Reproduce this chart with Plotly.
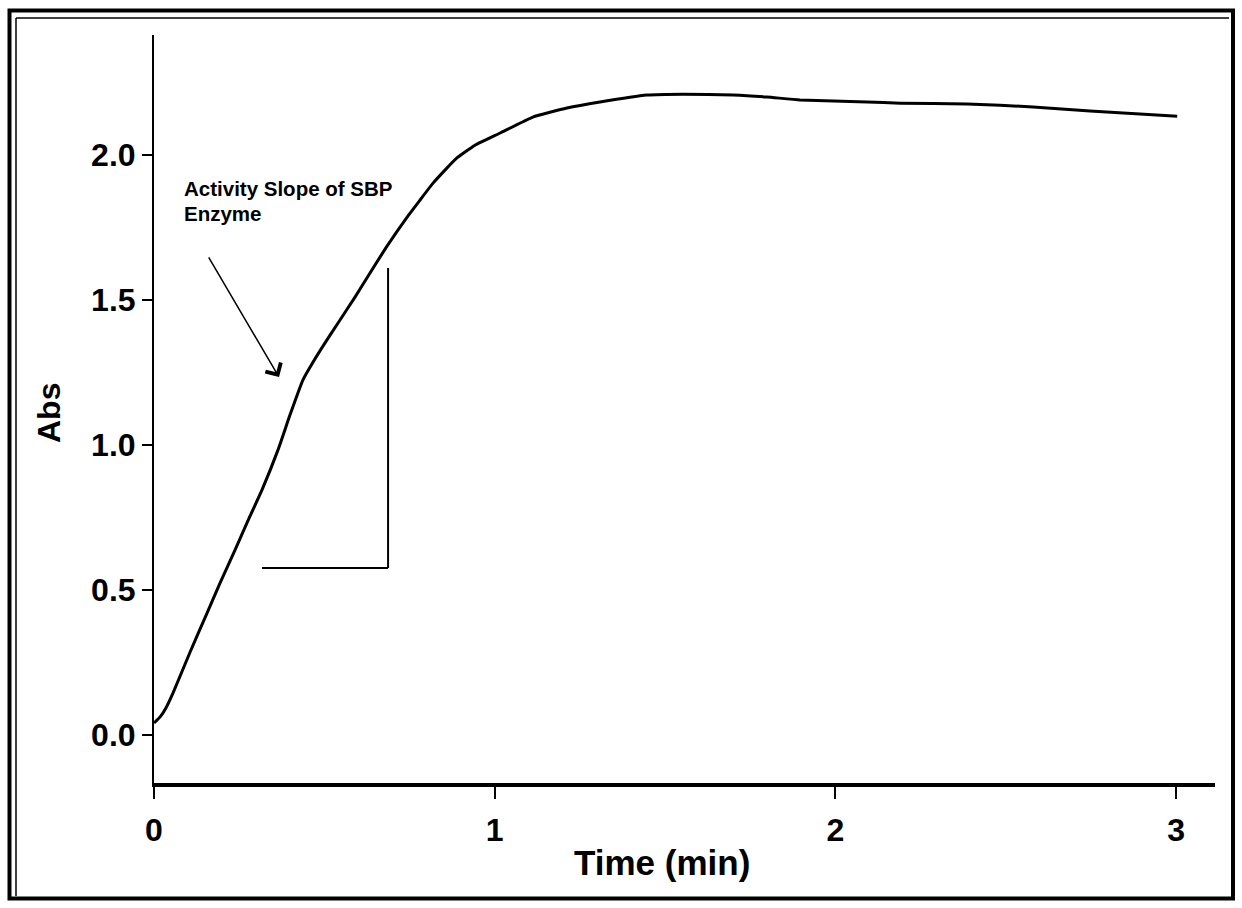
import plotly.graph_objects as go

# ---- data ----
time_min = [0, 0.018, 0.035, 0.056, 0.106, 0.156, 0.194, 0.238, 0.282, 0.317, 0.364,
            0.399, 0.437, 0.467, 0.502, 0.546, 0.59, 0.634, 0.684, 0.743, 0.781,
            0.819, 0.854, 0.889, 0.942, 1.016, 1.112, 1.212, 1.309, 1.447, 1.553,
            1.7, 1.799, 1.896, 2.093, 2.19, 2.386, 2.58, 2.747, 3.003]
absorbance = [0.041, 0.062, 0.093, 0.145, 0.286, 0.421, 0.524, 0.638, 0.755, 0.845, 0.983,
              1.103, 1.224, 1.286, 1.352, 1.431, 1.51, 1.593, 1.686, 1.786, 1.845,
              1.903, 1.948, 1.99, 2.034, 2.076, 2.131, 2.162, 2.183, 2.207, 2.21,
              2.207, 2.2, 2.19, 2.183, 2.179, 2.176, 2.166, 2.152, 2.134]
x_ticks = [0, 1, 2, 3]
x_tick_labels = ["0", "1", "2", "3"]
y_ticks = [0.0, 0.5, 1.0, 1.5, 2.0]
y_tick_labels = ["0.0", "0.5", "1.0", "1.5", "2.0"]
note_line1 = "Activity Slope of SBP"
note_line2 = "Enzyme"

# slope guide (data coords)
slope_x0, slope_x1 = 0.317, 0.687
slope_y0, slope_y1 = 0.576, 1.61
# arrow (data coords)
arrow_tail = (0.158, 1.652)
arrow_tip = (0.367, 1.234)

W, H = 1242, 908
L, R, T, B = 154, 1215, 35, 783


def px(x):
    return (x - L) / (R - L)


def py(y):
    return (B - y) / (B - T)


FONT = "Liberation Sans, Arial, sans-serif"

fig = go.Figure()
fig.add_trace(go.Scatter(x=time_min, y=absorbance, mode="lines",
                         line=dict(color="black", width=3, shape="spline", smoothing=0.4),
                         hoverinfo="skip", showlegend=False))

fig.update_layout(
    width=W, height=H,
    margin=dict(l=L, r=W - R, t=T, b=H - B),
    paper_bgcolor="white", plot_bgcolor="white",
    showlegend=False,
    xaxis=dict(range=[0, 3.114], tickvals=x_ticks, ticktext=x_tick_labels,
               showgrid=False, zeroline=False, showline=True, linecolor="black",
               linewidth=3.5, ticks="outside", ticklen=12, tickwidth=2, tickcolor="black",
               tickfont=dict(family=FONT, size=32, color="black", weight="bold"),
               ticklabelstandoff=4),
    yaxis=dict(range=[-0.166, 2.414], tickvals=y_ticks, ticktext=y_tick_labels,
               showgrid=False, zeroline=False, showline=True, linecolor="black",
               linewidth=2, ticks="outside", ticklen=10, tickwidth=2, tickcolor="black",
               tickfont=dict(family=FONT, size=32, color="black", weight="bold"),
               ticklabelstandoff=0),
)

# slope guide lines
fig.add_shape(type="line", xref="x", yref="y", x0=slope_x0, y0=slope_y0, x1=slope_x1, y1=slope_y0,
              line=dict(color="black", width=2))
fig.add_shape(type="line", xref="x", yref="y", x0=slope_x1, y0=slope_y0, x1=slope_x1, y1=slope_y1,
              line=dict(color="black", width=2))

# arrow
fig.add_annotation(x=arrow_tip[0], y=arrow_tip[1], ax=arrow_tail[0], ay=arrow_tail[1],
                   xref="x", yref="y", axref="x", ayref="y", text="", showarrow=True,
                   arrowhead=4, arrowsize=2.3, arrowwidth=1.5, arrowcolor="black")

# note text
fig.add_annotation(x=px(182), y=py(188), xref="paper", yref="paper", text=note_line1,
                   showarrow=False, xanchor="left", yanchor="middle",
                   font=dict(family=FONT, size=20.5, color="black", weight="bold"))
fig.add_annotation(x=px(182), y=py(214), xref="paper", yref="paper", text=note_line2,
                   showarrow=False, xanchor="left", yanchor="middle",
                   font=dict(family=FONT, size=20.5, color="black", weight="bold"))

# axis titles
fig.add_annotation(x=px(662), y=py(862), xref="paper", yref="paper", text="Time (min)",
                   showarrow=False, xanchor="center", yanchor="middle",
                   font=dict(family=FONT, size=35, color="black", weight="bold"))
fig.add_annotation(x=px(49), y=py(413), xref="paper", yref="paper", text="Abs",
                   showarrow=False, xanchor="center", yanchor="middle", textangle=-90,
                   font=dict(family=FONT, size=32, color="black", weight="bold"))

# outer double frame
fig.add_shape(type="rect", xref="paper", yref="paper", x0=px(9.5), y0=py(10.5), x1=px(1233), y1=py(898.5),
              line=dict(color="black", width=4))
fig.add_shape(type="line", xref="paper", yref="paper", x0=px(16), y0=py(18), x1=px(1229), y1=py(18),
              line=dict(color="black", width=1.5))
fig.add_shape(type="line", xref="paper", yref="paper", x0=px(16), y0=py(18), x1=px(16), y1=py(896),
              line=dict(color="black", width=1.5))

fig.write_html("out.html")
